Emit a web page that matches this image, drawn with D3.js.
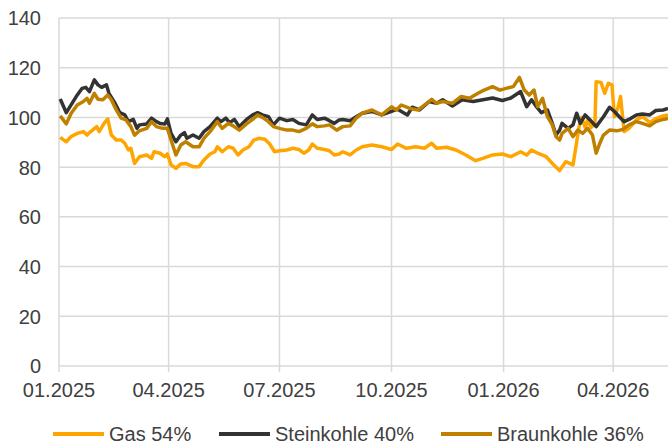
<!DOCTYPE html>
<html>
<head>
<meta charset="utf-8">
<script src="https://cdn.jsdelivr.net/npm/d3@7"></script>
<style>
  html, body { margin: 0; padding: 0; background: #fff; }
  svg { display: block; }
  text { font-family: "Liberation Sans", Arial, sans-serif; fill: #404040; }
</style>
</head>
<body>
<svg id="chart" width="668" height="447"></svg>
<script>
// ---- Data ----
const yTicks = [0, 20, 40, 60, 80, 100, 120, 140];
const xTickDates = ["2025-01-01", "2025-04-01", "2025-07-01", "2025-10-01", "2026-01-01", "2026-04-01"];
const xTickLabels = ["01.2025", "04.2025", "07.2025", "10.2025", "01.2026", "04.2026"];
const seriesNames = ["Gas 54%", "Steinkohle 40%", "Braunkohle 36%"];
const seriesColors = ["#FFA500", "#333333", "#BF8000"];

const gasData = [
  ["2025-01-02",92.0],["2025-01-07",90.2],["2025-01-11",92.3],["2025-01-16",93.6],["2025-01-21",94.3],
  ["2025-01-24",92.9],["2025-01-27",94.3],["2025-02-01",96.3],["2025-02-03",94.3],["2025-02-07",97.6],
  ["2025-02-10",99.4],["2025-02-13",92.9],["2025-02-17",90.9],["2025-02-21",90.9],["2025-02-24",89.6],
  ["2025-02-27",86.9],["2025-03-01",87.6],["2025-03-04",81.5],["2025-03-08",84.2],["2025-03-14",84.9],
  ["2025-03-18",83.5],["2025-03-20",86.2],["2025-03-25",85.6],["2025-03-29",84.2],["2025-03-31",85.3],
  ["2025-04-03",80.9],["2025-04-07",79.5],["2025-04-11",81.3],["2025-04-15",81.5],["2025-04-21",80.2],
  ["2025-04-26",80.2],["2025-04-30",82.9],["2025-05-05",85.3],["2025-05-09",86.2],["2025-05-11",88.2],
  ["2025-05-15",86.2],["2025-05-20",88.2],["2025-05-24",87.6],["2025-05-28",84.9],["2025-06-01",86.9],
  ["2025-06-06",88.2],["2025-06-10",90.9],["2025-06-14",91.6],["2025-06-19",91.2],["2025-06-23",89.3],
  ["2025-06-27",86.2],["2025-07-01",86.6],["2025-07-07",86.9],["2025-07-12",87.6],["2025-07-17",87.1],
  ["2025-07-21",85.6],["2025-07-25",86.9],["2025-07-28",89.3],["2025-08-01",87.6],["2025-08-07",87.1],
  ["2025-08-11",86.6],["2025-08-15",84.9],["2025-08-19",85.3],["2025-08-22",86.2],["2025-08-28",84.9],
  ["2025-09-02",86.9],["2025-09-07",88.2],["2025-09-15",88.9],["2025-09-23",88.2],["2025-10-01",87.1],
  ["2025-10-06",89.3],["2025-10-13",87.6],["2025-10-21",88.2],["2025-10-28",87.6],["2025-11-03",89.6],
  ["2025-11-07",87.6],["2025-11-15",88.0],["2025-11-23",86.9],["2025-12-01",84.9],["2025-12-09",82.6],
  ["2025-12-15",83.5],["2025-12-23",84.9],["2025-12-31",85.3],["2026-01-07",84.2],["2026-01-15",86.2],
  ["2026-01-20",84.9],["2026-01-24",86.9],["2026-01-29",85.6],["2026-02-05",84.2],["2026-02-10",81.5],
  ["2026-02-16",78.6],["2026-02-21",82.2],["2026-02-27",80.9],["2026-03-02",90.0],["2026-03-04",96.3],
  ["2026-03-06",100.0],["2026-03-09",96.0],["2026-03-11",99.0],["2026-03-14",96.0],["2026-03-17",97.6],
  ["2026-03-18",114.4],["2026-03-22",114.1],["2026-03-25",109.7],["2026-03-28",113.7],["2026-03-31",113.1],
  ["2026-04-02",100.3],["2026-04-05",104.0],["2026-04-07",108.4],["2026-04-10",94.3],["2026-04-14",95.6],
  ["2026-04-20",99.0],["2026-04-25",100.3],["2026-05-01",98.0],["2026-05-06",99.5],["2026-05-12",100.6],
  ["2026-05-16",101.0]
];

const steinkohleData = [
  ["2025-01-02",107.4],["2025-01-07",101.9],["2025-01-15",108.3],["2025-01-20",111.7],["2025-01-23",112.1],
  ["2025-01-26",110.4],["2025-01-30",115.1],["2025-02-02",113.1],["2025-02-05",112.1],["2025-02-09",113.1],
  ["2025-02-11",109.7],["2025-02-16",105.7],["2025-02-20",101.9],["2025-02-24",101.0],["2025-02-27",98.3],
  ["2025-03-03",99.2],["2025-03-06",95.6],["2025-03-08",97.0],["2025-03-14",97.4],["2025-03-18",99.7],
  ["2025-03-22",98.3],["2025-03-25",97.6],["2025-03-29",97.4],["2025-03-31",99.4],["2025-04-03",93.6],
  ["2025-04-07",90.2],["2025-04-11",92.9],["2025-04-14",93.9],["2025-04-16",91.6],["2025-04-21",92.9],
  ["2025-04-26",91.6],["2025-04-30",94.3],["2025-05-05",96.3],["2025-05-11",99.7],["2025-05-14",98.3],
  ["2025-05-18",99.7],["2025-05-21",97.9],["2025-05-25",99.2],["2025-05-29",96.3],["2025-06-04",99.2],
  ["2025-06-09",101.0],["2025-06-13",101.9],["2025-06-17",101.0],["2025-06-22",100.3],["2025-06-26",97.0],
  ["2025-07-01",99.7],["2025-07-07",98.7],["2025-07-12",99.2],["2025-07-17",97.6],["2025-07-23",97.0],
  ["2025-07-28",101.0],["2025-08-01",99.2],["2025-08-07",99.7],["2025-08-11",98.7],["2025-08-15",97.6],
  ["2025-08-19",99.0],["2025-08-22",99.2],["2025-08-28",98.7],["2025-09-02",100.3],["2025-09-07",101.7],
  ["2025-09-15",102.4],["2025-09-23",101.0],["2025-10-01",102.4],["2025-10-06",103.3],["2025-10-14",101.0],
  ["2025-10-18",104.1],["2025-10-24",103.0],["2025-11-01",106.4],["2025-11-07",105.7],["2025-11-12",107.1],
  ["2025-11-20",104.6],["2025-11-28",107.1],["2025-12-07",106.4],["2025-12-15",107.1],["2025-12-23",107.8],
  ["2025-12-31",106.8],["2026-01-07",107.8],["2026-01-15",110.4],["2026-01-20",104.3],["2026-01-24",107.1],
  ["2026-01-28",104.3],["2026-02-01",101.9],["2026-02-06",103.0],["2026-02-10",97.6],["2026-02-13",92.9],
  ["2026-02-16",94.9],["2026-02-18",97.6],["2026-02-23",95.6],["2026-02-27",97.0],["2026-03-02",101.7],
  ["2026-03-05",97.6],["2026-03-09",101.0],["2026-03-13",99.0],["2026-03-18",96.3],["2026-03-24",100.3],
  ["2026-03-29",104.1],["2026-04-02",102.4],["2026-04-06",100.3],["2026-04-10",98.3],["2026-04-14",99.2],
  ["2026-04-20",101.0],["2026-04-25",101.4],["2026-05-01",101.0],["2026-05-06",102.8],["2026-05-12",103.0],
  ["2026-05-16",103.6]
];

const braunkohleData = [
  ["2025-01-02",100.6],["2025-01-07",97.4],["2025-01-11",101.7],["2025-01-16",105.0],["2025-01-21",106.4],
  ["2025-01-24",107.7],["2025-01-26",105.7],["2025-01-30",109.7],["2025-02-02",107.3],["2025-02-06",107.1],
  ["2025-02-10",109.0],["2025-02-13",107.1],["2025-02-17",103.0],["2025-02-21",99.7],["2025-02-25",99.0],
  ["2025-03-01",96.3],["2025-03-04",92.9],["2025-03-08",94.6],["2025-03-14",95.6],["2025-03-18",98.3],
  ["2025-03-22",96.3],["2025-03-27",95.6],["2025-03-31",95.6],["2025-04-03",90.9],["2025-04-07",84.9],
  ["2025-04-11",88.9],["2025-04-15",90.2],["2025-04-21",88.2],["2025-04-26",88.2],["2025-04-30",91.6],
  ["2025-05-05",94.3],["2025-05-11",98.3],["2025-05-15",95.6],["2025-05-20",97.6],["2025-05-24",96.6],
  ["2025-05-29",94.9],["2025-06-04",97.4],["2025-06-09",99.2],["2025-06-13",101.0],["2025-06-17",100.0],
  ["2025-06-22",98.3],["2025-06-26",96.3],["2025-07-01",95.6],["2025-07-07",94.9],["2025-07-12",94.9],
  ["2025-07-17",94.3],["2025-07-23",95.6],["2025-07-28",97.4],["2025-08-01",96.3],["2025-08-07",96.6],
  ["2025-08-11",97.0],["2025-08-15",95.6],["2025-08-17",94.9],["2025-08-22",96.3],["2025-08-28",96.6],
  ["2025-09-02",99.7],["2025-09-07",101.7],["2025-09-15",103.0],["2025-09-23",101.0],["2025-10-01",104.3],
  ["2025-10-05",103.0],["2025-10-09",105.0],["2025-10-16",103.6],["2025-10-23",103.0],["2025-10-28",105.0],
  ["2025-11-03",107.3],["2025-11-07",105.7],["2025-11-12",106.4],["2025-11-20",105.7],["2025-11-27",108.4],
  ["2025-12-04",107.7],["2025-12-11",109.7],["2025-12-16",111.0],["2025-12-23",112.4],["2025-12-29",111.0],
  ["2026-01-03",111.7],["2026-01-09",112.4],["2026-01-14",116.1],["2026-01-18",111.0],["2026-01-22",109.0],
  ["2026-01-26",111.0],["2026-01-29",104.3],["2026-02-02",107.7],["2026-02-06",100.3],["2026-02-10",97.0],
  ["2026-02-13",92.3],["2026-02-16",90.9],["2026-02-18",93.6],["2026-02-23",95.6],["2026-02-27",92.3],
  ["2026-03-03",94.9],["2026-03-07",93.6],["2026-03-11",95.6],["2026-03-15",92.9],["2026-03-18",85.6],
  ["2026-03-21",89.6],["2026-03-24",92.9],["2026-03-29",94.9],["2026-04-04",94.6],["2026-04-09",95.2],
  ["2026-04-14",97.0],["2026-04-20",98.3],["2026-04-25",97.6],["2026-05-01",96.6],["2026-05-06",98.3],
  ["2026-05-12",99.2],["2026-05-16",99.6]
];

// ---- Chart ----
const parse = d3.timeParse("%Y-%m-%d");
const svg = d3.select("#chart");
const margin = { left: 59, right: 0, top: 18, bottom: 81 };
const W = 668, H = 447;

const x = d3.scaleTime()
  .domain([parse("2025-01-01"), parse("2026-05-16")])
  .range([margin.left, W - margin.right]);
const y = d3.scaleLinear().domain([0, 140]).range([H - margin.bottom, margin.top]);

const gridColor = "#d9d9d9";

// horizontal gridlines
svg.append("g").selectAll("line").data(yTicks).join("line")
  .attr("x1", margin.left).attr("x2", W)
  .attr("y1", d => y(d)).attr("y2", d => y(d))
  .attr("stroke", gridColor).attr("stroke-width", 1.5);

// vertical gridlines (extend a little below the axis as ticks)
svg.append("g").selectAll("line").data(xTickDates).join("line")
  .attr("x1", d => x(parse(d))).attr("x2", d => x(parse(d)))
  .attr("y1", y(140)).attr("y2", y(0) + 6)
  .attr("stroke", gridColor).attr("stroke-width", 1.5);

// y tick labels
svg.append("g").selectAll("text").data(yTicks).join("text")
  .attr("x", 41).attr("y", d => y(d)).attr("dy", "0.37em")
  .attr("text-anchor", "end").style("font-size", "20px")
  .text(d => d);

// x tick labels
svg.append("g").selectAll("text").data(xTickDates).join("text")
  .attr("x", d => x(parse(d))).attr("y", 397)
  .attr("text-anchor", "middle").style("font-size", "20px")
  .text((d, i) => xTickLabels[i]);

// lines
const line = d3.line()
  .x(d => x(parse(d[0])))
  .y(d => y(d[1]));

const allSeries = [gasData, steinkohleData, braunkohleData];
allSeries.forEach((s, i) => {
  svg.append("path")
    .datum(s)
    .attr("fill", "none")
    .attr("stroke", seriesColors[i])
    .attr("stroke-width", 3.5)
    .attr("stroke-linejoin", "round")
    .attr("d", line);
});

// legend
const legendX = [53, 219, 441];
const lg = svg.append("g");
seriesNames.forEach((name, i) => {
  lg.append("line")
    .attr("x1", legendX[i]).attr("x2", legendX[i] + 51)
    .attr("y1", 434).attr("y2", 434)
    .attr("stroke", seriesColors[i]).attr("stroke-width", 4);
  lg.append("text")
    .attr("x", legendX[i] + 56).attr("y", 441)
    .style("font-size", "20px")
    .text(name);
});
</script>
</body>
</html>
